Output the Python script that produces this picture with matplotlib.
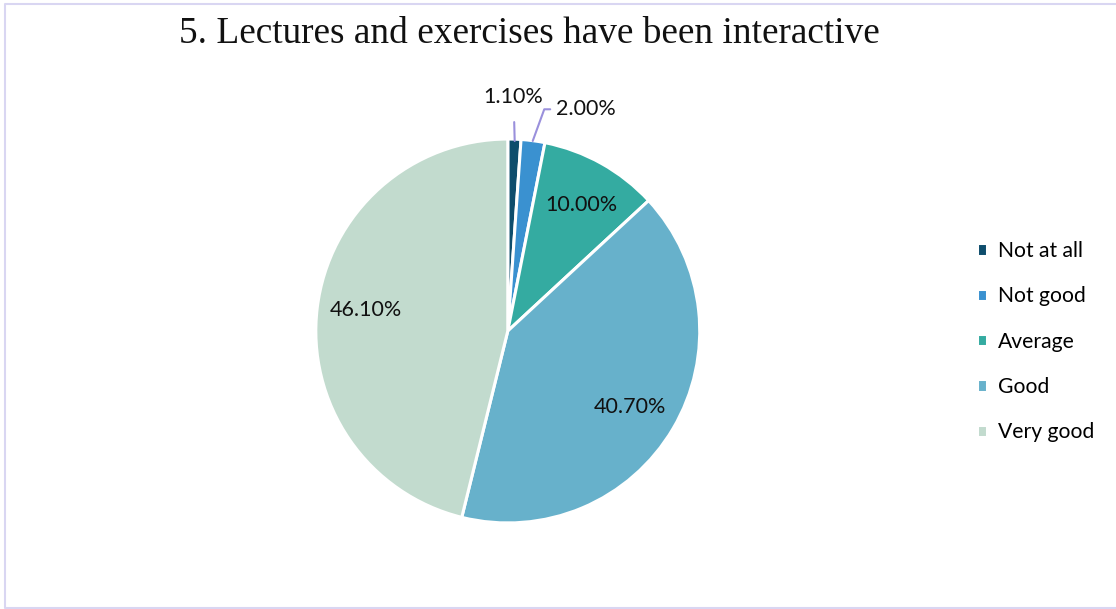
import matplotlib.pyplot as plt
from matplotlib.lines import Line2D

categories = ["Not at all", "Not good", "Average", "Good", "Very good"]
shares = [1.1, 2.0, 10.0, 40.7, 46.1]
colors = ["#0e4d6c", "#3a91d0", "#34aba1", "#67b1cb", "#c2dbce"]

plt.rcParams['font.family'] = ['Lato', 'DejaVu Sans']

fig = plt.figure(figsize=(11.16, 6.09), dpi=100)

# light frame around the chart (left, top, bottom)
frame = "#d9d6f2"
fx0, fy0, fy1 = 4.5 / 1116, 1.5 / 609, 1 - 3.5 / 609
fig.add_artist(Line2D([1.0, fx0, fx0, 1.0], [fy1, fy1, fy0, fy0],
                      transform=fig.transFigure, color=frame, lw=1.5))

ax = fig.add_axes([0.283, 0.141, 0.344, 0.631])
wedges, _ = ax.pie(shares, colors=colors, startangle=90, counterclock=False,
                   wedgeprops=dict(edgecolor="white", linewidth=2.2))
ax.set_xlim(-1, 1)
ax.set_ylim(-1, 1)
ax.set_aspect("equal")

# percentage labels: big slices inside, small ones outside with leader lines
inside = {2: (0.385, 0.657), 3: (0.635, -0.395), 4: (-0.74, 0.11)}
for i, (x, y) in inside.items():
    ax.text(x, y, f"{shares[i]:.2f}%", ha="center", va="center", fontsize=15.5, color="#111111")

lead = "#9a90dc"
ax.annotate(f"{shares[0]:.2f}%", xy=(0.036, 0.99), xytext=(0.03, 1.22),
            ha="center", va="center", fontsize=15.5, color="#111111", annotation_clip=False,
            arrowprops=dict(arrowstyle="-", color=lead, lw=1.5, shrinkA=9, shrinkB=0))
ax.annotate(f"{shares[1]:.2f}%", xy=(0.13, 0.99), xytext=(0.25, 1.155),
            ha="left", va="center", fontsize=15.5, color="#111111", annotation_clip=False,
            arrowprops=dict(arrowstyle="-", color=lead, lw=1.5, shrinkA=2, shrinkB=0,
                            connectionstyle="angle,angleA=0,angleB=70,rad=0"))

fig.legend(wedges, categories, loc="center left", bbox_to_anchor=(0.862, 0.439),
           frameon=False, fontsize=15.2, handlelength=0.5, handleheight=0.5,
           handletextpad=0.5, labelspacing=1.2, borderpad=0.2)

fig.text(0.474, 0.944, "5. Lectures and exercises have been interactive",
         ha="center", va="center", fontsize=26.8, family="Liberation Serif", color="#111111")

fig.savefig("out.png", dpi=100)
